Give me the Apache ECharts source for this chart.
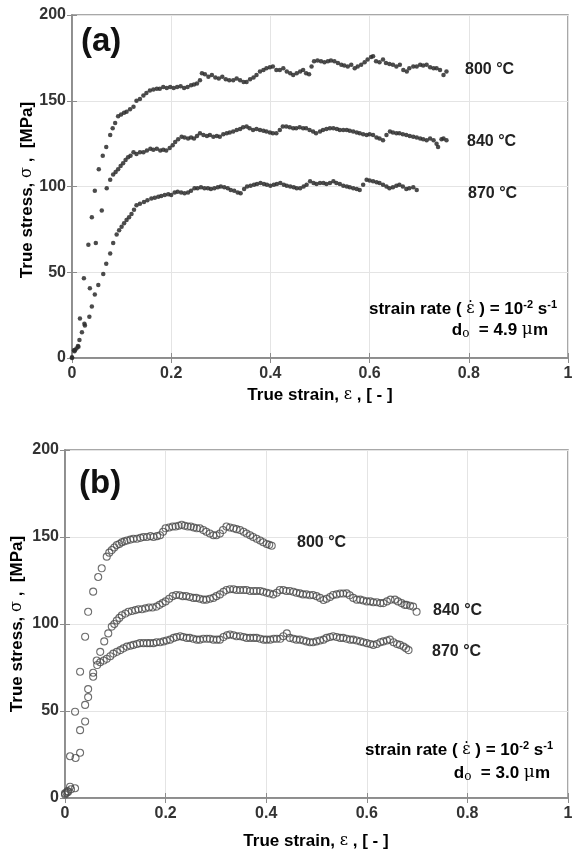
<!DOCTYPE html>
<html>
<head>
<meta charset="utf-8">
<script src="https://cdn.jsdelivr.net/npm/echarts@6/dist/echarts.min.js"></script>
<style>
html,body{margin:0;padding:0;background:#fff;}
#c{width:576px;height:854px;}
</style>
</head>
<body>
<div id="c"></div>
<script>
// ---------- DATA ----------
// x-axis tick values (true strain) and y-axis tick values (true stress, MPa)
var strainTicks = [0, 0.2, 0.4, 0.6, 0.8, 1];
var stressTicks = [0, 50, 100, 150, 200];
var seriesNames = ['800 °C', '840 °C', '870 °C'];

// Panel (a): d0 = 4.9 um   [strain, stress]
var a800 = [[0,0.5],[0.004,4.5],[0.009,5.5],[0.013,6.6],[0.016,23],[0.024,46.5],[0.033,66],[0.04,82],[0.046,97.5],[0.054,110],[0.062,118],[0.069,123],[0.077,130],[0.082,134],[0.087,137],[0.093,141],[0.099,142],[0.105,143],[0.11,143.6],[0.117,145],[0.124,146.5],[0.13,150],[0.137,151],[0.144,153],[0.15,154.5],[0.157,156],[0.164,156.5],[0.171,157],[0.177,157],[0.184,158],[0.191,157.5],[0.198,158],[0.205,157.5],[0.212,158],[0.219,158.5],[0.226,157.5],[0.233,158],[0.24,159],[0.246,159.5],[0.252,160],[0.258,162],[0.262,166],[0.268,165.5],[0.275,164],[0.282,165],[0.289,163.5],[0.296,163],[0.303,164],[0.31,162.5],[0.317,162],[0.325,162],[0.332,163],[0.339,162],[0.346,161],[0.352,161],[0.359,162.5],[0.366,163.5],[0.372,165],[0.379,167],[0.386,168],[0.392,169],[0.399,169.5],[0.405,170],[0.412,168],[0.419,168],[0.426,169],[0.433,167],[0.44,166],[0.446,165],[0.453,166],[0.46,167],[0.466,168],[0.472,166],[0.478,165.5],[0.483,170],[0.488,173],[0.495,173.5],[0.502,173],[0.509,172.5],[0.516,173],[0.522,173.5],[0.529,173],[0.536,172],[0.543,171],[0.549,170.5],[0.556,170],[0.563,171],[0.57,169],[0.576,170],[0.583,171],[0.59,172.5],[0.596,174],[0.603,175.5],[0.607,176],[0.613,173],[0.62,172.5],[0.627,174],[0.633,172],[0.64,171.5],[0.647,171],[0.654,170],[0.661,171],[0.668,168],[0.675,167],[0.68,169],[0.688,170],[0.695,170],[0.702,171],[0.708,170.5],[0.715,171],[0.722,169.5],[0.729,169],[0.735,169],[0.742,168],[0.749,165],[0.755,167]];
var a840 = [[0.005,4],[0.012,7],[0.025,20],[0.036,40.6],[0.048,67],[0.06,86],[0.07,99],[0.077,104],[0.083,107],[0.088,108.5],[0.093,110],[0.098,112],[0.103,113.5],[0.108,115.5],[0.113,117],[0.118,118],[0.124,120],[0.13,119],[0.137,120],[0.144,120],[0.151,121],[0.158,122],[0.164,121.5],[0.171,122],[0.178,121],[0.184,121.5],[0.19,121],[0.197,122.5],[0.203,124],[0.208,126],[0.214,127.5],[0.221,129],[0.227,128.5],[0.234,128],[0.24,128.5],[0.246,128],[0.252,129.5],[0.258,131],[0.265,130],[0.272,129.5],[0.278,130],[0.285,129],[0.292,129.5],[0.298,129],[0.305,130.5],[0.312,131],[0.318,131.5],[0.325,132],[0.332,133],[0.339,133.5],[0.345,134.5],[0.352,135],[0.358,134],[0.365,133],[0.372,133.5],[0.379,133],[0.386,132.5],[0.392,132],[0.399,131.5],[0.405,131],[0.412,131],[0.419,133],[0.425,135],[0.432,135],[0.439,134.5],[0.446,134],[0.452,134],[0.459,134.5],[0.466,134],[0.472,134],[0.479,133],[0.486,132],[0.492,131],[0.5,132],[0.506,133],[0.513,133.5],[0.52,134],[0.527,134],[0.534,133.5],[0.54,133],[0.547,133],[0.554,133],[0.56,132.5],[0.567,132],[0.574,131.5],[0.58,131],[0.587,130.5],[0.594,130],[0.6,130.5],[0.607,130],[0.614,128.5],[0.62,128],[0.627,127],[0.634,130],[0.641,132],[0.647,131.5],[0.654,131],[0.66,131],[0.667,130.5],[0.674,130],[0.681,129.5],[0.688,129],[0.695,128.5],[0.702,128],[0.708,127.5],[0.715,127],[0.722,128],[0.729,127],[0.735,125],[0.738,123],[0.745,127.5],[0.749,128],[0.755,127]];
var a870 = [[0,0],[0.006,4.7],[0.015,10.5],[0.02,15],[0.026,19],[0.035,24],[0.04,30],[0.046,37],[0.053,42.6],[0.063,49],[0.069,55],[0.077,61],[0.083,67],[0.09,72],[0.095,74.5],[0.1,76.6],[0.105,78.5],[0.11,80.5],[0.115,82],[0.12,84],[0.125,86.5],[0.13,89],[0.137,90],[0.145,91],[0.152,92],[0.16,93],[0.167,93.5],[0.174,94],[0.18,94.5],[0.187,95],[0.194,95.5],[0.2,95],[0.207,96.5],[0.213,97],[0.22,96.5],[0.227,96],[0.234,96.5],[0.24,97.5],[0.247,99],[0.253,99],[0.26,99.5],[0.267,99],[0.274,99],[0.28,98.5],[0.287,99],[0.294,99.5],[0.3,100],[0.307,99.5],[0.314,99],[0.32,98],[0.327,97.5],[0.334,96.5],[0.34,96],[0.347,98.5],[0.353,100],[0.36,100.5],[0.367,101],[0.373,101.5],[0.38,102],[0.387,101.5],[0.393,101],[0.4,100.5],[0.407,101],[0.413,101.5],[0.42,102],[0.427,101],[0.433,100.5],[0.44,100],[0.447,99.5],[0.453,99],[0.46,99],[0.467,100],[0.473,101],[0.48,103],[0.487,102],[0.493,101.5],[0.5,102],[0.507,102],[0.513,101.5],[0.52,102],[0.527,103],[0.533,102],[0.54,101.5],[0.547,100.5],[0.554,100],[0.56,99.5],[0.567,99],[0.574,98.5],[0.58,98],[0.587,101],[0.594,104],[0.6,103.5],[0.607,103],[0.614,102.5],[0.62,102],[0.627,101],[0.634,100],[0.64,99],[0.647,99.5],[0.654,100.5],[0.66,101],[0.667,100],[0.674,98.5],[0.68,99],[0.688,99.5],[0.695,98]];

// Panel (b): d0 = 3.0 um   [strain, stress]
var b800 = [[0,2.7],[0.005,4],[0.01,24],[0.02,49.6],[0.03,72.6],[0.04,92.7],[0.046,107],[0.056,118.6],[0.066,127],[0.073,132],[0.083,138.7],[0.088,141],[0.093,142.5],[0.098,144],[0.103,145.4],[0.108,146],[0.113,147],[0.118,147.5],[0.123,148],[0.13,148.5],[0.136,149],[0.143,149],[0.15,149.5],[0.156,150],[0.163,150],[0.17,150.5],[0.176,150],[0.183,150.5],[0.189,151],[0.195,153],[0.2,155],[0.207,155.5],[0.214,156],[0.22,156],[0.226,156.5],[0.232,157],[0.238,156.5],[0.244,156],[0.25,156],[0.256,155.5],[0.262,155],[0.268,155],[0.275,154],[0.281,153],[0.288,152],[0.295,151],[0.301,151],[0.308,152],[0.314,154],[0.321,156],[0.328,155.5],[0.335,155],[0.341,154.5],[0.348,154],[0.355,153],[0.361,152],[0.368,151],[0.374,150],[0.381,149],[0.388,148],[0.394,147],[0.401,146],[0.406,145.5],[0.411,145]];
var b840 = [[0.003,3],[0.01,6.5],[0.02,5.6],[0.03,26],[0.04,44],[0.046,58],[0.056,72],[0.063,79],[0.07,84],[0.078,90],[0.086,94.6],[0.093,98.5],[0.098,100],[0.103,102],[0.108,103.5],[0.113,105],[0.12,106],[0.126,107],[0.133,107.5],[0.14,108],[0.146,108.5],[0.153,108.5],[0.16,109],[0.167,109.5],[0.174,109.5],[0.182,110],[0.188,111],[0.194,112],[0.2,113],[0.207,114.5],[0.214,116],[0.221,116.7],[0.228,116.5],[0.234,116],[0.241,116],[0.248,115.5],[0.255,115],[0.261,115],[0.268,114.5],[0.275,114],[0.281,114],[0.288,114.5],[0.295,115],[0.301,116],[0.308,117],[0.315,118.5],[0.321,119.5],[0.328,120],[0.335,120],[0.341,119.5],[0.348,119.5],[0.355,119.5],[0.361,119.5],[0.368,119],[0.375,119],[0.381,119],[0.388,119],[0.394,118.5],[0.401,118],[0.407,117.5],[0.414,117],[0.421,118],[0.427,119.5],[0.434,119.5],[0.44,119],[0.447,119],[0.454,118.5],[0.46,118],[0.467,117.6],[0.473,117],[0.48,117],[0.487,116.5],[0.493,116.7],[0.5,116],[0.507,115],[0.514,113.8],[0.52,114.5],[0.527,115.5],[0.533,116.7],[0.54,117],[0.547,117.5],[0.553,117.5],[0.56,117.6],[0.566,116.5],[0.573,115],[0.58,114],[0.587,114],[0.593,113.5],[0.6,113],[0.607,113],[0.613,112.5],[0.62,112.5],[0.627,112],[0.633,112],[0.64,113],[0.647,114],[0.656,114],[0.662,113],[0.669,112],[0.675,111],[0.679,111],[0.686,110.5],[0.692,110],[0.699,107]];
var b870 = [[0,2],[0.006,3.5],[0.012,5],[0.021,23],[0.03,39],[0.04,53.5],[0.046,62.6],[0.056,69.7],[0.064,76.4],[0.07,78],[0.077,79],[0.083,80],[0.09,81.5],[0.096,83],[0.103,84],[0.11,85],[0.116,86],[0.123,87],[0.13,87.5],[0.136,88],[0.143,88.5],[0.149,89],[0.156,89],[0.163,89],[0.169,89],[0.176,89],[0.182,89.5],[0.189,89.5],[0.196,90],[0.202,90.5],[0.209,91],[0.216,92],[0.222,92.5],[0.229,93],[0.235,92.5],[0.242,92],[0.248,92],[0.255,91.5],[0.262,91],[0.268,91],[0.275,91.5],[0.282,91.5],[0.288,91.5],[0.295,91],[0.302,91],[0.308,91],[0.315,92.5],[0.322,93.5],[0.328,94],[0.335,93.5],[0.341,93],[0.348,93],[0.355,92.5],[0.361,92],[0.368,92],[0.375,92],[0.381,92],[0.388,91.5],[0.395,91],[0.401,91],[0.408,91],[0.415,91.5],[0.421,91.5],[0.428,91.5],[0.434,93],[0.441,94.6],[0.447,92],[0.454,91.5],[0.46,91],[0.467,91],[0.474,90.5],[0.48,90],[0.487,89.5],[0.493,89.5],[0.5,90],[0.507,90.5],[0.514,91],[0.52,92],[0.527,92.5],[0.533,93],[0.54,92.5],[0.547,92],[0.553,92],[0.56,91.5],[0.567,91],[0.573,91],[0.58,90.5],[0.587,90],[0.593,89.5],[0.6,89],[0.607,88.5],[0.613,88],[0.62,88.5],[0.627,89.5],[0.633,90],[0.64,90.5],[0.646,91],[0.653,89.5],[0.66,88.5],[0.666,88],[0.673,87],[0.678,86],[0.683,85]];

// ---------- CHART ----------
var FONT = '"Liberation Sans", Arial, sans-serif';
var SERIF = '"DejaVu Serif", "Liberation Serif", serif';
var TXT = '#222';
var AXC = '#8c8c8c';

var grids = [
  {left: 72, top: 15, width: 496, height: 343, show: true, borderColor: AXC, borderWidth: 1.5},
  {left: 65, top: 450, width: 503, height: 348, show: true, borderColor: AXC, borderWidth: 1.5}
];

function xMain(gi) {
  return {type: 'value', gridIndex: gi, min: strainTicks[0], max: strainTicks[strainTicks.length-1],
    interval: strainTicks[1]-strainTicks[0], position: 'bottom',
    axisLine: {show: true, lineStyle: {color: AXC, width: 1.5}},
    axisTick: {show: true, inside: true, length: 5, lineStyle: {color: AXC}},
    axisLabel: {show: true, margin: 8, color: '#333', fontFamily: FONT, fontWeight: 'bold', fontSize: 16},
    splitLine: {show: true, lineStyle: {color: '#e4e4e4', width: 1}}};
}
function xTop(gi) {
  return {type: 'value', gridIndex: gi, min: strainTicks[0], max: strainTicks[strainTicks.length-1],
    interval: strainTicks[1]-strainTicks[0], position: 'top',
    axisLine: {show: true, lineStyle: {color: AXC, width: 1.5}},
    axisTick: {show: true, inside: true, length: 5, lineStyle: {color: AXC}},
    axisLabel: {show: false}, splitLine: {show: false}};
}
function yMain(gi) {
  return {type: 'value', gridIndex: gi, min: stressTicks[0], max: stressTicks[stressTicks.length-1],
    interval: stressTicks[1]-stressTicks[0], position: 'left',
    axisLine: {show: true, lineStyle: {color: AXC, width: 1.5}},
    axisTick: {show: true, inside: true, length: 5, lineStyle: {color: AXC}},
    axisLabel: {show: true, margin: 6, color: '#333', fontFamily: FONT, fontWeight: 'bold', fontSize: 16},
    splitLine: {show: true, lineStyle: {color: '#e4e4e4', width: 1}}};
}
function yRight(gi) {
  return {type: 'value', gridIndex: gi, min: stressTicks[0], max: stressTicks[stressTicks.length-1],
    interval: stressTicks[1]-stressTicks[0], position: 'right',
    axisLine: {show: true, lineStyle: {color: AXC, width: 1.5}},
    axisTick: {show: true, inside: true, length: 5, lineStyle: {color: AXC}},
    axisLabel: {show: false}, splitLine: {show: false}};
}

function dots(name, data) {
  return {type: 'scatter', name: name, xAxisIndex: 0, yAxisIndex: 0, data: data,
    symbol: 'circle', symbolSize: 4.5, silent: true,
    itemStyle: {color: '#2b2b2b', opacity: 0.85}};
}
function rings(name, data) {
  return {type: 'scatter', name: name, xAxisIndex: 2, yAxisIndex: 2, data: data,
    symbol: 'circle', symbolSize: 7, silent: true,
    itemStyle: {color: 'rgba(255,255,255,0)', borderColor: '#4a4a4a', borderWidth: 1.1}};
}

function label(text, x, y, align) {
  return {type: 'text', x: x, y: y, z: 100,
    style: {text: text, fill: TXT, font: 'bold 16px ' + FONT, textAlign: align || 'left', textVerticalAlign: 'middle'}};
}
var noteStyles = {
  a: {fontFamily: FONT, fontWeight: 'bold', fontSize: 17, color: TXT, lineHeight: 20},
  e: {fontFamily: SERIF, fontSize: 16, color: TXT, lineHeight: 20},
  s: {fontFamily: FONT, fontWeight: 'bold', fontSize: 11, color: TXT, verticalAlign: 'top', lineHeight: 20},
  o: {fontFamily: SERIF, fontSize: 12, color: TXT, verticalAlign: 'bottom', lineHeight: 20},
  m: {fontFamily: SERIF, fontSize: 17, color: TXT, lineHeight: 20}
};
var titleStyles = {
  a: {fontFamily: FONT, fontWeight: 'bold', fontSize: 17, color: TXT, lineHeight: 20},
  e: {fontFamily: SERIF, fontSize: 16, color: TXT, lineHeight: 20}
};
function note(text, x, y) {
  return {type: 'text', x: x, y: y, z: 100,
    style: {text: text, rich: noteStyles, textAlign: 'right', textVerticalAlign: 'middle'}};
}
function yTitle(x, y) {
  return {type: 'text', x: x, y: y, rotation: Math.PI/2, z: 100,
    style: {text: '{a|True stress, }{e|σ}{a| ,  [MPa]}', rich: titleStyles, textAlign: 'center', textVerticalAlign: 'middle'}};
}
function xTitle(x, y) {
  return {type: 'text', x: x, y: y, z: 100,
    style: {text: '{a|True strain, }{e|ε}{a| , [ - ]}', rich: titleStyles, textAlign: 'center', textVerticalAlign: 'middle'}};
}

var option = {
  animation: false,
  backgroundColor: '#fff',
  grid: grids,
  xAxis: [xMain(0), xTop(0), xMain(1), xTop(1)],
  yAxis: [yMain(0), yRight(0), yMain(1), yRight(1)],
  series: [
    dots(seriesNames[0], a800), dots(seriesNames[1], a840), dots(seriesNames[2], a870),
    rings(seriesNames[0], b800), rings(seriesNames[1], b840), rings(seriesNames[2], b870)
  ],
  graphic: [
    {type: 'text', x: 81, y: 42, z: 100, style: {text: '(a)', fill: '#111', font: 'bold 33px ' + FONT, textVerticalAlign: 'middle'}},
    {type: 'text', x: 79, y: 484, z: 100, style: {text: '(b)', fill: '#111', font: 'bold 33px ' + FONT, textVerticalAlign: 'middle'}},
    label(seriesNames[0], 465, 70), label(seriesNames[1], 467, 142), label(seriesNames[2], 468, 194),
    label(seriesNames[0], 297, 543), label(seriesNames[1], 433, 611), label(seriesNames[2], 432, 652),
    note('{a|strain rate ( }{e|ε̇}{a| ) = 10}{s|-2}{a| s}{s|-1}', 557, 309),
    note('{a|d}{o|o}{a|  = 4.9 }{m|μ}{a|m}', 548, 330),
    note('{a|strain rate ( }{e|ε̇}{a| ) = 10}{s|-2}{a| s}{s|-1}', 553, 750),
    note('{a|d}{o|o}{a|  = 3.0 }{m|μ}{a|m}', 550, 773),
    yTitle(27, 190), yTitle(17, 624),
    xTitle(320, 395), xTitle(316, 841)
  ]
};

var chart = echarts.init(document.getElementById('c'), null, {renderer: 'canvas'});
chart.setOption(option);
</script>
</body>
</html>
